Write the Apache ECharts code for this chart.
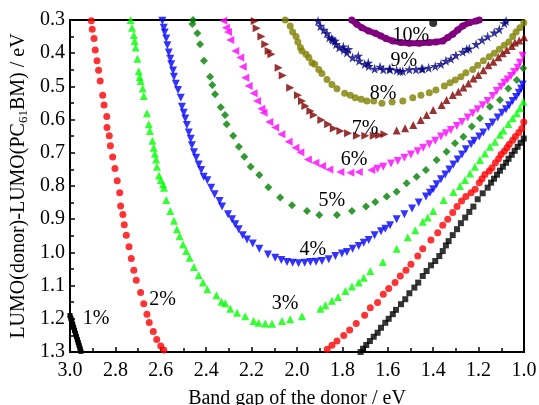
<!DOCTYPE html>
<html><head><meta charset="utf-8">
<script src="https://cdn.jsdelivr.net/npm/echarts@6/dist/echarts.min.js"></script>
<style>html,body{margin:0;padding:0;background:#fff}#c{width:539px;height:405px}</style>
</head><body><div id="c"></div>
<script>
// Tick labels
const xTickLabels = ['3.0','2.8','2.6','2.4','2.2','2.0','1.8','1.6','1.4','1.2','1.0'];
const yTickLabels = ['0.3','0.4','0.5','0.6','0.7','0.8','0.9','1.0','1.1','1.2','1.3'];
// Contour levels (labels) : [bandgap, offset, text]
const contourLabels = [[2.885,1.195,'1%'],[2.592,1.136,'2%'],[2.052,1.148,'3%'],[1.930,0.987,'4%'],[1.847,0.838,'5%'],[1.749,0.716,'6%'],[1.700,0.621,'7%'],[1.621,0.515,'8%'],[1.529,0.417,'9%'],[1.498,0.341,'10%']];

// 1%
const eff1a = [[3.000,1.190],[2.996,1.199],[2.992,1.208],[2.988,1.217],[2.984,1.226],[2.980,1.235],[2.976,1.244],[2.972,1.253],[2.968,1.262],[2.964,1.271],[2.960,1.280],[2.956,1.289],[2.952,1.298]];
const eff1b = [[1.001,0.657],[1.015,0.670],[1.028,0.682],[1.041,0.694],[1.054,0.706],[1.068,0.718],[1.079,0.730],[1.093,0.742],[1.106,0.754],[1.119,0.766],[1.132,0.778],[1.145,0.790],[1.160,0.805],[1.182,0.822],[1.204,0.840],[1.223,0.862],[1.241,0.878],[1.259,0.895],[1.278,0.912],[1.295,0.930],[1.314,0.948],[1.332,0.966],[1.344,0.979],[1.358,0.996],[1.373,1.011],[1.391,1.026],[1.410,1.039],[1.429,1.056],[1.446,1.071],[1.466,1.091],[1.483,1.106],[1.505,1.123],[1.523,1.141],[1.542,1.156],[1.564,1.173],[1.578,1.186],[1.596,1.200],[1.611,1.212],[1.630,1.227],[1.645,1.242],[1.662,1.254],[1.679,1.267],[1.695,1.279],[1.709,1.290],[1.720,1.300]];
// 2%
const eff2a = [[2.906,0.302],[2.902,0.328],[2.894,0.356],[2.889,0.390],[2.881,0.423],[2.874,0.451],[2.867,0.484],[2.856,0.527],[2.850,0.556],[2.838,0.591],[2.837,0.624],[2.827,0.649],[2.822,0.679],[2.812,0.713],[2.802,0.747],[2.792,0.784],[2.781,0.820],[2.777,0.860],[2.767,0.886],[2.761,0.917],[2.752,0.948],[2.740,0.983],[2.730,1.018],[2.719,1.054],[2.708,1.084],[2.689,1.121],[2.675,1.155],[2.661,1.186],[2.651,1.211],[2.633,1.238],[2.618,1.262],[2.600,1.282],[2.587,1.294]];
const eff2b = [[1.001,0.607],[1.010,0.627],[1.023,0.639],[1.038,0.651],[1.050,0.662],[1.065,0.674],[1.075,0.685],[1.087,0.695],[1.101,0.705],[1.112,0.718],[1.126,0.730],[1.141,0.745],[1.153,0.755],[1.172,0.765],[1.185,0.778],[1.197,0.790],[1.215,0.810],[1.233,0.820],[1.256,0.832],[1.275,0.845],[1.295,0.862],[1.314,0.880],[1.336,0.900],[1.358,0.918],[1.380,0.941],[1.410,0.963],[1.446,0.989],[1.468,1.011],[1.498,1.036],[1.520,1.054],[1.545,1.071],[1.568,1.091],[1.596,1.109],[1.620,1.126],[1.645,1.151],[1.677,1.167],[1.702,1.189],[1.739,1.214],[1.768,1.234],[1.794,1.250],[1.824,1.267],[1.846,1.280],[1.867,1.292]];
// 3%
const eff3 = [[2.733,0.300],[2.727,0.323],[2.719,0.345],[2.715,0.363],[2.711,0.383],[2.703,0.417],[2.697,0.454],[2.693,0.472],[2.689,0.484],[2.680,0.506],[2.675,0.529],[2.661,0.581],[2.653,0.614],[2.648,0.634],[2.637,0.664],[2.631,0.685],[2.626,0.703],[2.621,0.720],[2.617,0.742],[2.608,0.768],[2.600,0.782],[2.590,0.795],[2.586,0.805],[2.576,0.842],[2.558,0.875],[2.542,0.905],[2.529,0.930],[2.517,0.951],[2.502,0.976],[2.488,0.996],[2.473,1.016],[2.454,1.044],[2.433,1.069],[2.414,1.091],[2.395,1.111],[2.355,1.129],[2.333,1.149],[2.316,1.153],[2.294,1.170],[2.264,1.182],[2.228,1.192],[2.191,1.207],[2.169,1.212],[2.140,1.214],[2.110,1.215],[2.066,1.207],[2.030,1.201],[1.978,1.192],[1.897,1.170],[1.875,1.159],[1.846,1.146],[1.819,1.134],[1.787,1.116],[1.758,1.103],[1.728,1.091],[1.706,1.076],[1.677,1.056],[1.622,1.029],[1.561,0.989],[1.512,0.954],[1.479,0.933],[1.446,0.908],[1.424,0.895],[1.400,0.875],[1.354,0.842],[1.311,0.818],[1.282,0.800],[1.260,0.782],[1.238,0.762],[1.216,0.742],[1.194,0.722],[1.172,0.702],[1.150,0.682],[1.128,0.667],[1.106,0.646],[1.091,0.633],[1.069,0.613],[1.050,0.596],[1.032,0.581],[1.018,0.566],[1.003,0.546]];
// 4%
const eff4 = [[2.593,0.302],[2.587,0.323],[2.583,0.338],[2.576,0.356],[2.571,0.376],[2.565,0.398],[2.558,0.417],[2.554,0.433],[2.546,0.452],[2.542,0.471],[2.534,0.492],[2.524,0.511],[2.512,0.534],[2.507,0.561],[2.499,0.579],[2.492,0.597],[2.485,0.616],[2.477,0.639],[2.468,0.658],[2.463,0.677],[2.454,0.698],[2.444,0.715],[2.433,0.735],[2.422,0.752],[2.411,0.772],[2.395,0.783],[2.378,0.805],[2.363,0.825],[2.341,0.845],[2.330,0.862],[2.304,0.885],[2.286,0.900],[2.272,0.915],[2.257,0.930],[2.239,0.948],[2.220,0.961],[2.195,0.973],[2.166,0.989],[2.128,1.006],[2.096,1.016],[2.069,1.023],[2.044,1.029],[2.019,1.031],[1.993,1.033],[1.966,1.031],[1.941,1.029],[1.916,1.028],[1.890,1.026],[1.860,1.021],[1.831,1.011],[1.802,1.003],[1.780,0.999],[1.755,0.989],[1.728,0.981],[1.706,0.971],[1.684,0.963],[1.658,0.948],[1.630,0.936],[1.611,0.929],[1.590,0.918],[1.561,0.900],[1.527,0.885],[1.493,0.868],[1.464,0.850],[1.432,0.832],[1.414,0.820],[1.400,0.810],[1.385,0.795],[1.366,0.780],[1.347,0.765],[1.329,0.750],[1.311,0.735],[1.292,0.720],[1.273,0.705],[1.256,0.689],[1.233,0.674],[1.219,0.664],[1.197,0.651],[1.179,0.639],[1.156,0.622],[1.138,0.609],[1.116,0.594],[1.097,0.579],[1.079,0.569],[1.065,0.557],[1.050,0.544],[1.035,0.532],[1.023,0.519],[1.013,0.507],[1.006,0.494]];
// 5%
const eff5 = [[2.458,0.300],[2.461,0.312],[2.439,0.340],[2.427,0.373],[2.410,0.423],[2.383,0.471],[2.373,0.496],[2.361,0.524],[2.336,0.563],[2.317,0.586],[2.310,0.614],[2.281,0.649],[2.256,0.682],[2.232,0.712],[2.204,0.742],[2.166,0.767],[2.126,0.804],[2.074,0.835],[2.022,0.858],[1.956,0.875],[1.902,0.887],[1.824,0.887],[1.758,0.875],[1.696,0.862],[1.655,0.848],[1.605,0.832],[1.561,0.817],[1.517,0.792],[1.473,0.772],[1.432,0.752],[1.385,0.722],[1.341,0.697],[1.304,0.671],[1.267,0.652],[1.230,0.621],[1.194,0.596],[1.150,0.561],[1.106,0.541],[1.069,0.506],[1.032,0.481],[1.003,0.445]];
// 6%
const eff6a = [[2.325,0.302],[2.313,0.323],[2.304,0.336],[2.294,0.360],[2.272,0.393],[2.250,0.413],[2.239,0.441],[2.228,0.474],[2.213,0.499],[2.191,0.521],[2.176,0.544],[2.157,0.567],[2.147,0.579],[2.122,0.607],[2.096,0.624],[2.069,0.644],[2.037,0.667],[2.007,0.685],[1.985,0.698],[1.952,0.720],[1.919,0.730],[1.890,0.740],[1.858,0.750],[1.809,0.758],[1.765,0.760],[1.728,0.758],[1.673,0.752]];
const eff6b = [[1.006,0.408],[1.018,0.429],[1.028,0.444],[1.043,0.457],[1.057,0.469],[1.072,0.479],[1.087,0.489],[1.101,0.501],[1.120,0.514],[1.138,0.529],[1.160,0.544],[1.182,0.557],[1.204,0.569],[1.226,0.581],[1.248,0.594],[1.273,0.607],[1.296,0.619],[1.322,0.631],[1.344,0.641],[1.366,0.651],[1.391,0.664],[1.417,0.674],[1.444,0.685],[1.468,0.695],[1.498,0.705],[1.527,0.715],[1.556,0.725],[1.586,0.732],[1.620,0.742],[1.645,0.748]];
// 7%
const eff7a = [[2.186,0.303],[2.178,0.325],[2.157,0.350],[2.140,0.373],[2.125,0.393],[2.113,0.403],[2.081,0.444],[2.063,0.467],[2.030,0.504],[1.996,0.527],[1.978,0.544],[1.963,0.559],[1.941,0.574],[1.926,0.586],[1.893,0.601],[1.863,0.614],[1.838,0.627],[1.809,0.634],[1.775,0.641],[1.736,0.649],[1.699,0.649],[1.662,0.649],[1.638,0.647],[1.615,0.644]];
const eff7b = [[1.000,0.352],[1.021,0.362],[1.040,0.368],[1.054,0.378],[1.076,0.390],[1.094,0.400],[1.113,0.412],[1.135,0.426],[1.157,0.436],[1.179,0.451],[1.201,0.466],[1.223,0.476],[1.245,0.491],[1.267,0.503],[1.289,0.516],[1.314,0.526],[1.341,0.541],[1.363,0.556],[1.400,0.571],[1.429,0.586],[1.455,0.601],[1.488,0.616],[1.524,0.626],[1.561,0.633]];
// 8%
const eff8 = [[2.052,0.300],[2.030,0.318],[2.019,0.336],[2.004,0.350],[1.996,0.366],[1.985,0.383],[1.978,0.393],[1.960,0.403],[1.948,0.413],[1.934,0.429],[1.922,0.433],[1.904,0.449],[1.890,0.461],[1.868,0.479],[1.846,0.494],[1.824,0.507],[1.790,0.521],[1.765,0.527],[1.743,0.534],[1.717,0.539],[1.692,0.544],[1.662,0.544],[1.626,0.551],[1.581,0.547],[1.534,0.544],[1.490,0.534],[1.454,0.527],[1.417,0.519],[1.388,0.511],[1.351,0.499],[1.326,0.489],[1.303,0.481],[1.278,0.471],[1.256,0.459],[1.226,0.449],[1.204,0.436],[1.179,0.423],[1.153,0.411],[1.131,0.400],[1.109,0.388],[1.087,0.376],[1.067,0.366],[1.050,0.350],[1.035,0.336],[1.018,0.323],[1.001,0.308]];
// 9%
const eff9 = [[1.907,0.303],[1.897,0.318],[1.882,0.330],[1.868,0.340],[1.858,0.353],[1.847,0.356],[1.843,0.360],[1.833,0.363],[1.828,0.373],[1.814,0.383],[1.796,0.380],[1.794,0.390],[1.780,0.398],[1.774,0.388],[1.755,0.413],[1.730,0.408],[1.726,0.423],[1.702,0.433],[1.686,0.429],[1.684,0.439],[1.658,0.447],[1.634,0.441],[1.620,0.449],[1.593,0.447],[1.590,0.449],[1.561,0.451],[1.546,0.454],[1.534,0.454],[1.505,0.449],[1.476,0.449],[1.451,0.447],[1.446,0.447],[1.420,0.444],[1.391,0.439],[1.366,0.433],[1.344,0.423],[1.322,0.417],[1.300,0.406],[1.270,0.396],[1.252,0.388],[1.241,0.386],[1.211,0.373],[1.185,0.360],[1.160,0.350],[1.131,0.338],[1.109,0.328],[1.087,0.310],[1.079,0.303]];
// 10%
const eff10 = [[1.759,0.300],[1.736,0.313],[1.714,0.323],[1.684,0.333],[1.655,0.340],[1.630,0.348],[1.608,0.356],[1.578,0.363],[1.542,0.368],[1.505,0.370],[1.461,0.370],[1.417,0.368],[1.388,0.366],[1.358,0.363],[1.336,0.353],[1.314,0.343],[1.292,0.330],[1.270,0.318],[1.241,0.308],[1.211,0.303],[1.197,0.300]];
const maxPoint = [[1.400,0.309]];

const FONT = 'Liberation Serif';
const TRI_DOWN = 'path://M0,0 L10,0 L5,9 Z';
const TRI_LEFT = 'path://M9,0 L9,10 L0,5 Z';
const TRI_RIGHT = 'path://M0,0 L0,10 L9,5 Z';
const STAR = 'path://M50,0 L61,35 L98,35 L68,57 L79,91 L50,70 L21,91 L32,57 L2,35 L39,35 Z';

function sc(data, color, symbol, size) {
  return {type:'scatter', data, symbol, symbolSize:size, itemStyle:{color}, silent:true, z:3};
}
function band(data, color, symbol, size, width) {
  return {type:'line', data, symbol, symbolSize:size, showSymbol:true, itemStyle:{color},
    lineStyle:{color, width}, silent:true, z:3};
}

const chart = echarts.init(document.getElementById('c'), null, {renderer:'canvas'});
const axisCommon = {
  axisLine:{show:true, onZero:false, lineStyle:{color:'#000', width:2}},
  axisTick:{show:true, inside:true, length:5, lineStyle:{color:'#000', width:1.5}},
  minorTick:{show:true, splitNumber:2, length:4, lineStyle:{color:'#000', width:1.5}},
  splitLine:{show:false}, minorSplitLine:{show:false},
  nameLocation:'middle'
};
chart.setOption({
  animation:false,
  backgroundColor:'#fff',
  textStyle:{fontFamily:FONT},
  grid:{left:70, right:15, top:20, bottom:53, show:true, borderColor:'#000', borderWidth:2,
        containLabel:false, outerBoundsMode:'none'},
  xAxis: Object.assign({type:'value', min:1.0, max:3.0, interval:0.2, inverse:true,
    axisLabel:{fontFamily:FONT, fontSize:20, color:'#000', margin:9,
      formatter:v=>xTickLabels.find(t=>Math.abs(parseFloat(t)-v)<1e-6) || ''},
    name:'Band gap of the donor / eV', nameGap:37,
    nameTextStyle:{fontFamily:FONT, fontSize:20, color:'#000'}}, axisCommon),
  yAxis: Object.assign({type:'value', min:0.3, max:1.3, interval:0.1, inverse:true,
    axisLabel:{fontFamily:FONT, fontSize:20, color:'#000', margin:5,
      formatter:v=>yTickLabels.find(t=>Math.abs(parseFloat(t)-v)<1e-6) || ''},
    name:'LUMO(donor)-LUMO(PC{s|61}BM) / eV', nameGap:40, nameMoveOverlap:false,
    nameTextStyle:{fontFamily:FONT, fontSize:20, color:'#000',
      rich:{s:{fontFamily:FONT, fontSize:13, color:'#000', padding:[9,0,0,0]}}}}, axisCommon),
  series:[
    band(eff1a,'#000000','rect',5,5),
    sc(eff1b,'#000000','rect',6),
    sc(eff2a,'#ff0000','circle',7),
    sc(eff2b,'#ff0000','circle',7),
    sc(eff3,'#00ff00','triangle',8),
    sc(eff4,'#0000ff',TRI_DOWN,8),
    sc(eff5,'#007f00','diamond',8),
    sc(eff6a,'#ff00ff',TRI_LEFT,8),
    sc(eff6b,'#ff00ff',TRI_DOWN,8),
    sc(eff7a,'#800000',TRI_RIGHT,8),
    sc(eff7b,'#800000','triangle',8),
    sc(eff8,'#808000','circle',7),
    sc(eff9,'#000080',STAR,10),
    band(eff10,'#800080','circle',7,6),
    sc(maxPoint,'#000000','circle',8),
    {type:'custom', data:contourLabels.map(d=>[d[0],d[1]]), silent:true, z:5,
     renderItem:(params, api)=>{
       const p = api.coord([api.value(0), api.value(1)]);
       return {type:'text', x:p[0], y:p[1]+2,
         style:{text:contourLabels[params.dataIndex][2], font:'20px "Liberation Serif"', fill:'#000',
                align:'center', verticalAlign:'middle'}};
     }}
  ]
});
</script></body></html>
